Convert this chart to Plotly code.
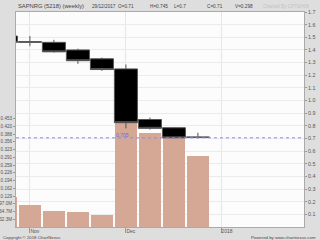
import plotly.graph_objects as go

# ---- data ----
week_labels = ["30/10/2017", "06/11/2017", "13/11/2017", "20/11/2017", "27/11/2017",
               "04/12/2017", "11/12/2017", "18/12/2017", "25/12/2017"]
opens  = [1.51, 1.46, 1.46, 1.40, 1.33, 1.25, 0.85, 0.785, 0.71]
highs  = [1.53, 1.51, 1.48, 1.41, 1.34, 1.285, 0.865, 0.79, 0.745]
lows   = [1.45, 1.43, 1.38, 1.29, 1.235, 0.78, 0.77, 0.70, 0.70]
closes = [1.46, 1.465, 1.385, 1.315, 1.245, 0.825, 0.78, 0.705, 0.71]
volumes = [124e6, 93e6, 68e6, 63e6, 51e6, 438e6, 393e6, 371e6, 298e6]

month_ticks = [1, 5, 9]
month_labels = ["Nov", "Dec", "2018"]
price_ticks = [0.1, 0.2, 0.3, 0.4, 0.5, 0.6, 0.7, 0.8, 0.9, 1.0,
               1.1, 1.2, 1.3, 1.4, 1.5, 1.6, 1.7]
price_labels = ["0.1", "0.2", "0.3", "0.4", "0.5", "0.6", "0.7", "0.8", "0.9", "1.0",
                "1.1", "1.2", "1.3", "1.4", "1.5", "1.6", "1.7"]
vol_ticks = [32.3e6 * k for k in range(1, 15)]
vol_labels = ["32.3M", "64.7M", "97.0M", "0.129", "0.162", "0.194", "0.226",
              "0.259", "0.291", "0.323", "0.356", "0.388", "0.420", "0.453"]
last_line = 0.705
last_line_label = "0.705"

idx = list(range(len(week_labels)))

# ---- layout helpers ----
W, H = 320, 240
L, R, T, B = 16, 16, 12, 13
def px(x):
    return (x - L) / (W - L - R)
def py(y):
    return (H - B - y) / (H - T - B)

fig = go.Figure()
fig.add_trace(go.Bar(
    x=idx, y=volumes, width=0.92, marker=dict(color="#d4a895", line=dict(width=0)),
    yaxis="y", hoverinfo="skip", showlegend=False))
fig.add_trace(go.Candlestick(
    x=idx, open=opens, high=highs, low=lows, close=closes, yaxis="y2",
    increasing=dict(fillcolor="#000000", line=dict(color="#555555", width=1)),
    decreasing=dict(fillcolor="#000000", line=dict(color="#555555", width=1)),
    whiskerwidth=0, showlegend=False))

FAM = "Liberation Sans, Arial, sans-serif"
small = dict(family=FAM, size=5.3, color="#555555")
left_small = dict(family=FAM, size=4.6, color="#555555")

fig.update_layout(
    width=W, height=H,
    margin=dict(l=L, r=R, t=T, b=B, pad=0, autoexpand=False),
    paper_bgcolor="#dedede", plot_bgcolor="#fcfcfc",
    boxgap=0.04, boxgroupgap=0,
    bargap=0,
    xaxis=dict(range=[0.42, 12.42], tickvals=month_ticks, ticktext=month_labels,
               showgrid=True, gridcolor="#e6e6e6", gridwidth=1,
               ticks="outside", ticklen=5, tickcolor="#999999",
               ticklabelshift=5, ticklabelstandoff=-6, automargin=False,
               showline=True, linecolor="#aaaaaa", mirror=True,
               rangeslider=dict(visible=False), tickfont=dict(small, size=5),
               zeroline=False),
    yaxis=dict(range=[0, 0.897e9], tickvals=vol_ticks, ticktext=vol_labels,
               showgrid=False, ticks="outside", ticklen=2, tickcolor="#999999",
               showline=True, linecolor="#aaaaaa", mirror=True, automargin=False,
               tickfont=left_small, zeroline=False),
    yaxis2=dict(range=[0, 1.7], tickvals=price_ticks, ticktext=price_labels,
                overlaying="y", side="right", showgrid=True, gridcolor="#ebebeb",
                ticks="outside", ticklen=2, tickcolor="#999999", automargin=False,
                tickfont=small, zeroline=False),
    shapes=[dict(type="line", xref="paper", x0=0, x1=1, yref="y2",
                 y0=last_line, y1=last_line, layer="above",
                 line=dict(color="#8a8af0", width=1, dash="dot"))],
)

title_font = dict(family=FAM, size=5.8, color="#444444")
hdr = dict(family=FAM, size=4.7, color="#444444")
foot = dict(family=FAM, size=4.3, color="#444444")
last = len(week_labels) - 1
header = [
    (16, "SAPNRG (5218) (weekly)", title_font),
    (90, "29/12/2017", hdr),
    (116, "O=%g" % opens[last], hdr),
    (148, "H=%g" % highs[last], hdr),
    (172, "L=%g" % lows[last], hdr),
    (205, "C=%g" % closes[last], hdr),
    (233, "V=%g" % round(volumes[last] / 1e9, 3), hdr),
    (261, "Charted By CPTEH08", dict(hdr, color="#c4c4c4")),
]
ann = []
for x, t, f in header:
    ann.append(dict(xref="paper", yref="paper", x=px(x), y=py(6.5), text=t,
                    showarrow=False, xanchor="left", yanchor="middle", font=f))
ann.append(dict(xref="paper", yref="paper", x=px(1), y=py(237), text="Copyright © 2018 ChartNexus",
                showarrow=False, xanchor="left", yanchor="middle", font=foot))
ann.append(dict(xref="paper", yref="paper", x=px(318), y=py(237), text="Powered by www.chartnexus.com",
                showarrow=False, xanchor="right", yanchor="middle", font=foot))
ann.append(dict(xref="paper", yref="y2", x=px(114), y=last_line, yshift=3, text=last_line_label,
                showarrow=False, xanchor="left", yanchor="middle",
                font=dict(family=FAM, size=5, color="#6a6ae0")))
fig.update_layout(annotations=ann)

fig.write_html("out.html")
